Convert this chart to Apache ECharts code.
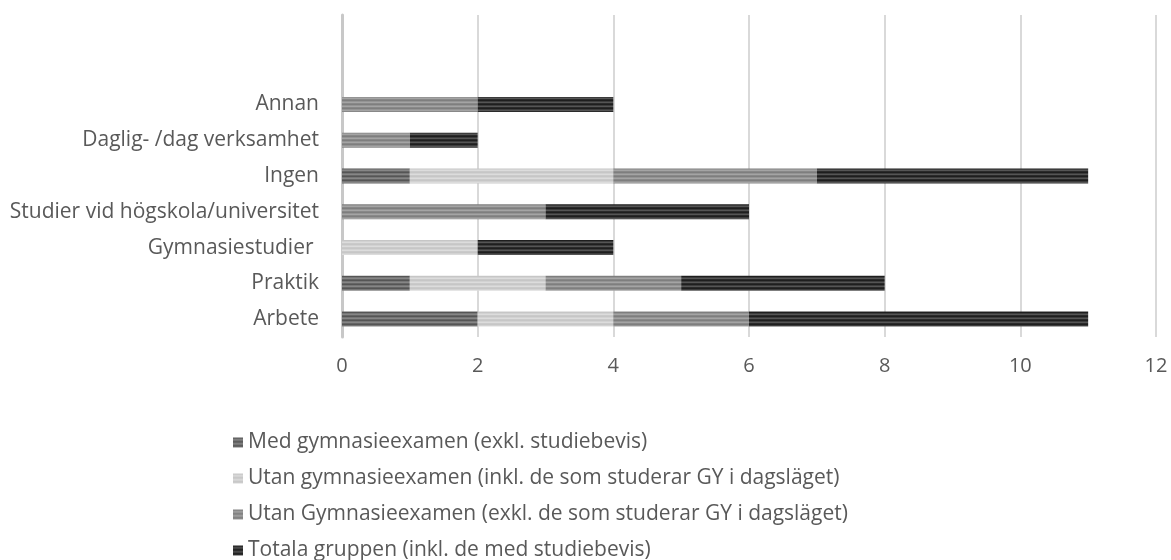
<!DOCTYPE html>
<html><head><meta charset="utf-8">
<script src="https://cdn.jsdelivr.net/npm/echarts@6/dist/echarts.min.js"></script>
<style>html,body{margin:0;padding:0;background:#fff}#c{width:1171px;height:560px}</style>
</head><body><div id="c"></div>
<script>
const categories = ['Arbete', 'Praktik', 'Gymnasiestudier ', 'Studier vid högskola/universitet', 'Ingen', 'Daglig- /dag verksamhet', 'Annan', '', ''];
const seriesNames = [
  'Med gymnasieexamen (exkl. studiebevis)',
  'Utan gymnasieexamen (inkl. de som studerar GY i dagsläget)',
  'Utan Gymnasieexamen (exkl. de som studerar GY i dagsläget)',
  'Totala gruppen (inkl. de med studiebevis)'
];
const medGy = [2, 1, 0, 0, 1, 0, 0, null, null];
const utanInkl = [2, 2, 2, 0, 3, 0, 0, null, null];
const utanExkl = [2, 2, 0, 3, 3, 1, 2, null, null];
const totala = [5, 3, 2, 3, 4, 1, 2, null, null];
const xTicks = [0, 2, 4, 6, 8, 10, 12];

function stripe(rows) {
  const c = document.createElement('canvas');
  c.width = 4; c.height = rows.length;
  const ctx = c.getContext('2d');
  rows.forEach((col, i) => { ctx.fillStyle = col; ctx.fillRect(0, i, 4, 1); });
  return { image: c, repeat: 'repeat' };
}
const fills = [
  stripe(['#555555', '#767676', '#868686', '#656565']),
  stripe(['#c6c6c6', '#d2d2d2', '#dcdcdc', '#cacaca']),
  stripe(['#7e7e7e', '#949494', '#a4a4a4', '#888888']),
  stripe(['#1e1e1e', '#3c3c3c', '#555555', '#2a2a2a'])
];
const values = [medGy, utanInkl, utanExkl, totala];

const font = '"Open Sans", sans-serif';
const chart = echarts.init(document.getElementById('c'));
chart.setOption({
  animation: false,
  grid: { left: 342, right: 15, top: 15, bottom: 223, containLabel: false },
  legend: {
    orient: 'vertical', left: 228, top: 427, height: 300, itemGap: 15,
    itemWidth: 10, itemHeight: 10, icon: 'rect',
    textStyle: { color: '#595959', fontSize: 21, fontFamily: font },
    data: seriesNames
  },
  xAxis: {
    type: 'value', min: xTicks[0], max: xTicks[xTicks.length - 1], interval: 2,
    axisLine: { show: false }, axisTick: { show: false },
    splitLine: { lineStyle: { color: '#d9d9d9', width: 2 } },
    axisLabel: { color: '#595959', fontSize: 20, fontFamily: font, margin: 19 }
  },
  yAxis: {
    type: 'category', data: categories,
    axisLine: { lineStyle: { color: '#c8c8c8', width: 3 } },
    axisTick: { show: false },
    axisLabel: { color: '#595959', fontSize: 21, fontFamily: font, margin: 23 }
  },
  series: values.map((v, i) => ({
    name: seriesNames[i], type: 'bar', stack: 'total', barWidth: 15,
    data: v, itemStyle: { color: fills[i] }
  }))
});
</script></body></html>
